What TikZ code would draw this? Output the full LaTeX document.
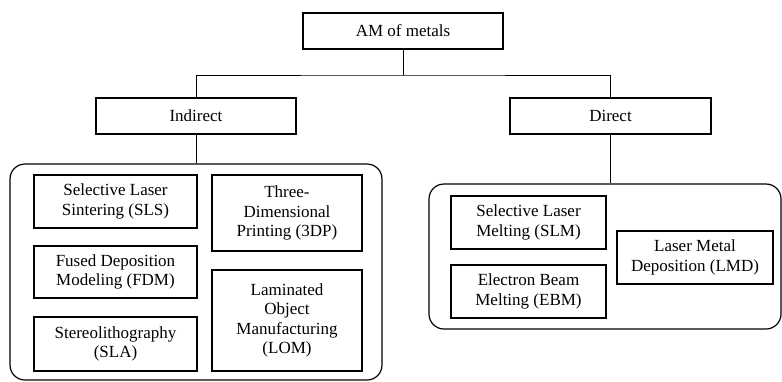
\documentclass[tikz,border=0pt]{standalone}
\usepackage{fontspec}
\setmainfont{Liberation Serif}
\usetikzlibrary{positioning}

\begin{document}
\begin{tikzpicture}[x=1pt, y=-1pt,
  box/.style={draw, rectangle, line width=1.2pt, align=center, inner sep=0pt,
    font=\fontsize{17}{19.5}\selectfont},
  group/.style={draw, rectangle, rounded corners=15pt, line width=1.2pt, inner sep=0pt},
  link/.style={draw, line width=0.8pt}]
\useasboundingbox (0,0) rectangle (782,381);
% top levels
\node[box, minimum width=200pt, minimum height=36pt] (am) at (403,31) {AM of metals};
\node[box, minimum width=200pt, minimum height=36pt] (indirect) at (196,116) {Indirect};
\node[box, minimum width=201pt, minimum height=36pt] (direct) at (610.5,116) {Direct};
\coordinate (split) at (403,75);
% groups
\node[group, minimum width=372pt, minimum height=216pt] (leftgrp) at (196,272) {};
\node[group, minimum width=352pt, minimum height=145pt] (rightgrp) at (605,256.5) {};
% indirect methods
\node[box, minimum width=163pt, minimum height=53pt] (sls) at (115.5,201.5) {Selective Laser\\Sintering (SLS)};
\node[box, minimum width=163pt, minimum height=52pt] (fdm) at (115.5,272) {Fused Deposition\\Modeling (FDM)};
\node[box, minimum width=163pt, minimum height=54pt] (sla) at (115.5,344) {Stereolithography\\(SLA)};
\node[box, minimum width=150pt, minimum height=76pt] (tdp) at (287,213) {Three-\\Dimensional\\Printing (3DP)};
\node[box, minimum width=150pt, minimum height=101pt] (lom) at (287,320.5) {Laminated\\Object\\Manufacturing\\(LOM)};
% direct methods
\node[box, minimum width=155pt, minimum height=53pt] (slm) at (528.5,222.5) {Selective Laser\\Melting (SLM)};
\node[box, minimum width=155pt, minimum height=53pt] (ebm) at (528.5,291.5) {Electron Beam\\Melting (EBM)};
\node[box, minimum width=156pt, minimum height=53pt] (lmd) at (695,257.5) {Laser Metal\\Deposition (LMD)};
% connectors
\draw[link] (am.south) -- (split);
\draw[link] (indirect.north) |- (split) -| (direct.north);
\draw[link] (indirect.south) -- (leftgrp.north);
\draw[link] (direct.south) -- (direct.south |- rightgrp.north);
\end{tikzpicture}
\end{document}
